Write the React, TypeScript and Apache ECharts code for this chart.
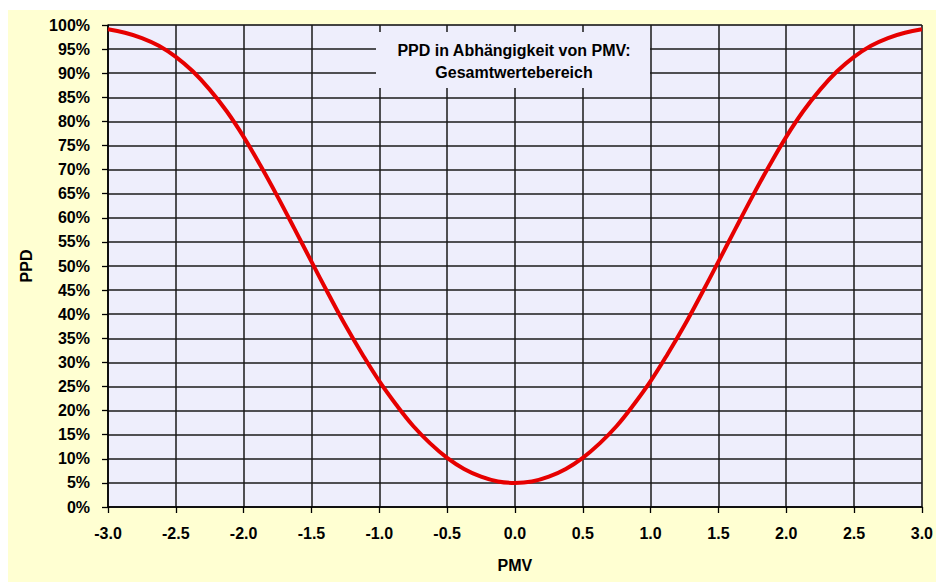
import React, { useEffect, useRef } from "react";
import * as echarts from "echarts";

const pmv = [
  -3, -2.875, -2.75, -2.625, -2.5, -2.375, -2.25, -2.125, -2, -1.875, -1.75, -1.625, -1.5, -1.375, -1.25, -1.125,
  -1, -0.875, -0.75, -0.625, -0.5, -0.375, -0.25, -0.125, 0, 0.125, 0.25, 0.375, 0.5, 0.625, 0.75, 0.875,
  1, 1.125, 1.25, 1.375, 1.5, 1.625, 1.75, 1.875, 2, 2.125, 2.25, 2.375, 2.5, 2.625, 2.75, 2.875, 3,
];
const ppd = [
  99.1, 98.4, 97.3, 95.7, 93.4, 90.4, 86.6, 82.1, 76.8, 70.8, 64.4, 57.7, 50.9, 44.2, 37.7, 31.7,
  26.1, 21.2, 16.8, 13.2, 10.2, 7.9, 6.3, 5.3, 5.0, 5.3, 6.3, 7.9, 10.2, 13.2, 16.8, 21.2,
  26.1, 31.7, 37.7, 44.2, 50.9, 57.7, 64.4, 70.8, 76.8, 82.1, 86.6, 90.4, 93.4, 95.7, 97.3, 98.4, 99.1,
];
const titleLines = ["PPD in Abhängigkeit von PMV:", "Gesamtwertebereich"];

export default function App() {
  const ref = useRef<HTMLDivElement>(null);
  useEffect(() => {
    const chart = echarts.init(ref.current!, null, { renderer: "svg" });
    const font = "Arial, 'Liberation Sans', sans-serif";
    chart.setOption({
      animation: false,
      backgroundColor: "#FFFFD2",
      grid: {
        left: 100,
        top: 15,
        right: 14,
        bottom: 75,
        show: true,
        backgroundColor: "#EEEEFC",
        borderColor: "#8a8a8a",
        borderWidth: 1,
      },
      xAxis: {
        type: "value",
        min: -3,
        max: 3,
        interval: 0.5,
        name: "PMV",
        nameLocation: "middle",
        nameGap: 50,
        nameTextStyle: { fontFamily: font, fontWeight: "bold", fontSize: 16, color: "#000" },
        axisLine: { onZero: false, lineStyle: { color: "#000", width: 1.5 } },
        axisTick: { show: true, length: 6, lineStyle: { color: "#000", width: 1.3 } },
        axisLabel: {
          formatter: (v: number) => v.toFixed(1),
          fontFamily: font,
          fontWeight: "bold",
          fontSize: 16,
          color: "#000",
          margin: 18,
        },
        splitLine: { show: true, lineStyle: { color: "#1a1a1a", width: 1.5 } },
      },
      yAxis: {
        type: "value",
        min: 0,
        max: 100,
        interval: 5,
        name: "PPD",
        nameLocation: "middle",
        nameGap: 74,
        nameTextStyle: { fontFamily: font, fontWeight: "bold", fontSize: 16, color: "#000" },
        axisLine: { show: true, onZero: false, lineStyle: { color: "#000", width: 1.5 } },
        axisTick: { show: true, length: 6, lineStyle: { color: "#000", width: 1.3 } },
        axisLabel: {
          formatter: "{value}%",
          fontFamily: font,
          fontWeight: "bold",
          fontSize: 16,
          color: "#000",
          margin: 18,
        },
        splitLine: { show: true, lineStyle: { color: "#1a1a1a", width: 1.5 } },
      },
      graphic: [
        {
          type: "rect",
          shape: { x: 368, y: 22, width: 274, height: 56 },
          style: { fill: "#EEEEFC" },
          z: 50,
        },
        {
          type: "text",
          x: 506,
          y: 40,
          style: {
            text: titleLines[0],
            font: `bold 16px ${font}`,
            fill: "#000",
            align: "center",
            verticalAlign: "middle",
          },
          z: 51,
        },
        {
          type: "text",
          x: 506,
          y: 62,
          style: {
            text: titleLines[1],
            font: `bold 16px ${font}`,
            fill: "#000",
            align: "center",
            verticalAlign: "middle",
          },
          z: 51,
        },
      ],
      series: [
        {
          type: "line",
          data: pmv.map((x, i) => [x, ppd[i]]),
          smooth: 0.4,
          showSymbol: false,
          lineStyle: { color: "#E60000", width: 4 },
          z: 10,
        },
      ],
    });
    return () => chart.dispose();
  }, []);
  return (
    <div
      ref={ref}
      style={{ position: "absolute", left: 8, top: 10, width: 928, height: 572 }}
    />
  );
}
